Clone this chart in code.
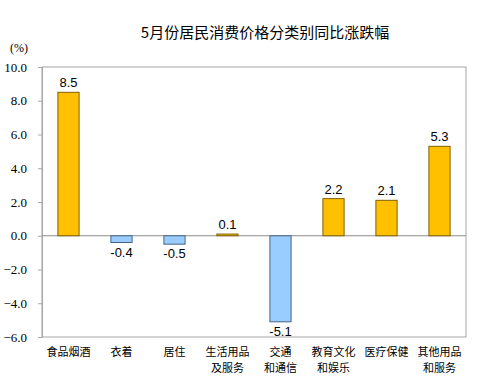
<!DOCTYPE html>
<html>
<head>
<meta charset="utf-8">
<script src="https://cdn.jsdelivr.net/npm/d3@7"></script>
<style>
  body { margin: 0; background: #fff; }
  svg { display: block; }
</style>
</head>
<body>
<script>
const categories = [
  ["食品烟酒"],
  ["衣着"],
  ["居住"],
  ["生活用品", "及服务"],
  ["交通", "和通信"],
  ["教育文化", "和娱乐"],
  ["医疗保健"],
  ["其他用品", "和服务"]
];
const values = [8.5, -0.4, -0.5, 0.1, -5.1, 2.2, 2.1, 5.3];
const yTicks = [-6, -4, -2, 0, 2, 4, 6, 8, 10];

const width = 483;
const height = 388;
const margin = { top: 67, right: 17, bottom: 51, left: 42 };

const svg = d3
  .select("body")
  .append("svg")
  .attr("width", width)
  .attr("height", height);

svg
  .append("text")
  .attr("x", 265)
  .attr("y", 38)
  .attr("text-anchor", "middle")
  .attr("font-family", "Noto Sans CJK SC")
  .attr("font-size", 15)
  .attr("fill", "#000")
  .text("5月份居民消费价格分类别同比涨跌幅");

svg
  .append("text")
  .attr("x", 19)
  .attr("y", 52)
  .attr("text-anchor", "middle")
  .attr("font-family", "Liberation Serif")
  .attr("font-size", 12)
  .text("(%)");

const x = d3
  .scaleBand()
  .domain(d3.range(categories.length))
  .range([margin.left, width - margin.right])
  .paddingInner(0.6)
  .paddingOuter(0.3);

const y = d3
  .scaleLinear()
  .domain([-6, 10])
  .range([height - margin.bottom, margin.top]);

// plot frame
svg
  .append("rect")
  .attr("x", margin.left)
  .attr("y", margin.top)
  .attr("width", width - margin.left - margin.right)
  .attr("height", height - margin.top - margin.bottom)
  .attr("fill", "none")
  .attr("stroke", "#a6a6a6");

const yAxis = svg
  .append("g")
  .attr("transform", `translate(${margin.left},0)`)
  .call(
    d3
      .axisLeft(y)
      .tickValues(yTicks)
      .tickSize(4)
      .tickPadding(11)
      .tickFormat(d3.format(".1f"))
  );
yAxis.select(".domain").attr("stroke", "#a6a6a6");
yAxis.selectAll(".tick line").attr("stroke", "#a6a6a6");
yAxis
  .selectAll(".tick text")
  .attr("font-family", "Liberation Serif")
  .attr("font-size", 13)
  .attr("fill", "#000");

svg
  .append("line")
  .attr("x1", margin.left)
  .attr("x2", width - margin.right)
  .attr("y1", y(0))
  .attr("y2", y(0))
  .attr("stroke", "#8c8c8c");

svg
  .selectAll("rect.bar")
  .data(values)
  .join("rect")
  .attr("class", "bar")
  .attr("x", (d, i) => x(i))
  .attr("width", x.bandwidth())
  .attr("y", d => y(Math.max(0, d)))
  .attr("height", d => Math.abs(y(d) - y(0)))
  .attr("fill", d => (d >= 0 ? "#ffc000" : "#99ccff"))
  .attr("stroke", d => (d >= 0 ? "#7f6000" : "#4a6482"))
  .attr("stroke-width", 1);

svg
  .selectAll("text.val")
  .data(values)
  .join("text")
  .attr("class", "val")
  .attr("x", (d, i) => x(i) + x.bandwidth() / 2)
  .attr("y", d => (d >= 0 ? y(d) - 5 : y(d) + 14))
  .attr("text-anchor", "middle")
  .attr("font-family", "Liberation Sans")
  .attr("font-size", 13)
  .text(d => d.toFixed(1));

// category labels, one text per line
const catLines = categories.flatMap((lines, i) =>
  lines.map((t, j) => ({ t, i, j }))
);

svg
  .selectAll("text.cat")
  .data(catLines)
  .join("text")
  .attr("class", "cat")
  .attr("x", d => x(d.i) + x.bandwidth() / 2)
  .attr("y", d => 356 + d.j * 16)
  .attr("text-anchor", "middle")
  .attr("font-family", "Noto Sans CJK SC")
  .attr("font-size", 11)
  .attr("fill", "#000")
  .text(d => d.t);
</script>
</body>
</html>
